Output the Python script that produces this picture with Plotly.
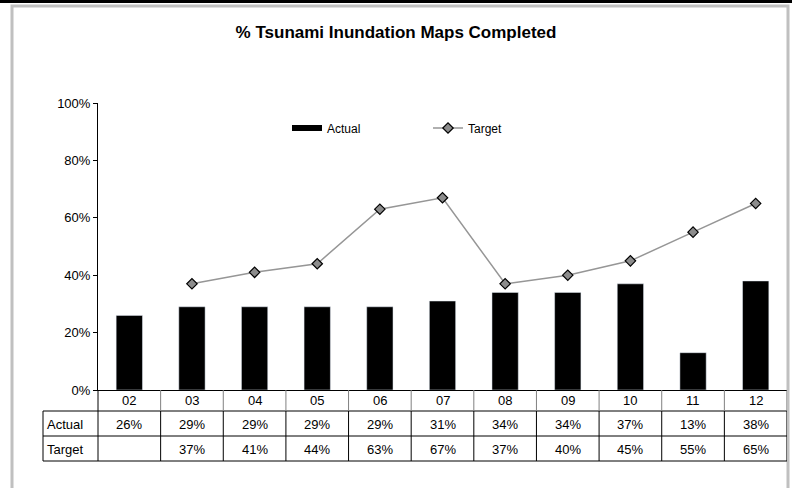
import plotly.graph_objects as go

years = ["02", "03", "04", "05", "06", "07", "08", "09", "10", "11", "12"]
actual = [0.26, 0.29, 0.29, 0.29, 0.29, 0.31, 0.34, 0.34, 0.37, 0.13, 0.38]
target = [None, 0.37, 0.41, 0.44, 0.63, 0.67, 0.37, 0.40, 0.45, 0.55, 0.65]
y_ticks = [0, 0.2, 0.4, 0.6, 0.8, 1.0]

W, H = 792, 488
L, R, T, B = 98, 5, 103, 98
plot_w, plot_h = W - L - R, H - T - B


def px_x(px):
    return (px - L) / plot_w


def px_y(py):
    return (H - B - py) / plot_h


FONT = "Liberation Sans, Arial, sans-serif"
idx = list(range(len(years)))

fig = go.Figure()
fig.add_trace(go.Bar(x=years, y=actual, name="Actual", marker_color="black", width=0.42, showlegend=False))
# legend stand-in for the bars: a flat wide black swatch like the original
fig.add_trace(go.Scatter(x=[years[0]], y=[None], name="Actual", mode="lines", line={"color": "black", "width": 6}))
fig.add_trace(
    go.Scatter(
        x=years,
        y=target,
        name="Target",
        mode="lines+markers",
        line={"color": "#969696", "width": 1.5},
        marker={"symbol": "diamond", "size": 8, "color": "#8c8c8c", "line": {"color": "black", "width": 1.2}},
    )
)

shapes = []
# outer frame
shapes.append(dict(type="rect", xref="paper", yref="paper", x0=px_x(12), x1=px_x(788), y0=px_y(6), y1=px_y(500),
                   line={"color": "#c0c0c0", "width": 3}, layer="below"))
# dark strip along the very top of the page
shapes.append(dict(type="line", xref="paper", yref="paper", x0=px_x(0), x1=px_x(792), y0=px_y(1.5), y1=px_y(1.5),
                   line={"color": "black", "width": 3}, layer="below"))

# data table grid
rows = [411, 436, 461]
for r in rows:
    shapes.append(dict(type="line", xref="paper", yref="paper", x0=px_x(43), x1=1, y0=px_y(r), y1=px_y(r),
                       line={"color": "black", "width": 1}))
shapes.append(dict(type="line", xref="paper", yref="paper", x0=px_x(43), x1=px_x(43), y0=px_y(411), y1=px_y(461),
                   line={"color": "black", "width": 1}))
shapes.append(dict(type="line", xref="paper", yref="paper", x0=0, x1=0, y0=px_y(390), y1=px_y(461),
                   line={"color": "black", "width": 1}))
for i in range(1, len(years) + 1):
    shapes.append(dict(type="line", xref="x", yref="paper", x0=i - 0.5, x1=i - 0.5, y0=px_y(390), y1=px_y(411),
                       line={"color": "#808080", "width": 1}))
    shapes.append(dict(type="line", xref="x", yref="paper", x0=i - 0.5, x1=i - 0.5, y0=px_y(411), y1=px_y(461),
                       line={"color": "black", "width": 1}))

annotations = []
row_specs = [(400.5, None, None), (424, "Actual", actual), (449, "Target", target)]
for cy, label, vals in row_specs:
    if label:
        annotations.append(dict(text=label, xref="paper", yref="paper", x=px_x(45), y=px_y(cy),
                                xanchor="left", yanchor="middle", showarrow=False))
    for i, yr in zip(idx, years):
        if vals is None:
            txt = yr
        else:
            txt = "" if vals[i] is None else f"{vals[i] * 100:.0f}%"
        annotations.append(dict(text=txt, xref="x", yref="paper", x=i, y=px_y(cy),
                                xanchor="center", yanchor="middle", showarrow=False))

fig.update_layout(
    width=W,
    height=H,
    margin={"l": L, "r": R, "t": T, "b": B},
    paper_bgcolor="white",
    plot_bgcolor="white",
    font={"family": FONT, "size": 13, "color": "black"},
    title={"text": "<b>% Tsunami Inundation Maps Completed</b>", "x": 0.5, "xanchor": "center",
           "y": 1 - 32 / H, "yanchor": "middle", "font": {"size": 17, "family": FONT}},
    showlegend=True,
    legend={"orientation": "h", "x": px_x(287), "y": px_y(128), "xanchor": "left", "yanchor": "middle",
            "font": {"size": 12}, "entrywidth": 96, "entrywidthmode": "pixels", "bgcolor": "rgba(0,0,0,0)"},
    shapes=shapes,
    annotations=annotations,
    bargap=0.58,
)
fig.update_xaxes(type="category", range=[-0.5, len(years) - 0.5], showticklabels=False, showline=True,
                 linecolor="black", linewidth=1, ticks="", showgrid=False)
fig.update_yaxes(range=[0, 1], tickvals=y_ticks, tickformat=".0%", showline=True, linecolor="black", linewidth=1,
                 ticks="outside", ticklen=4, tickcolor="black", showgrid=False, zeroline=False)

fig.write_html("out.html", config={"displayModeBar": False}, post_script="document.body.style.margin='0';")
